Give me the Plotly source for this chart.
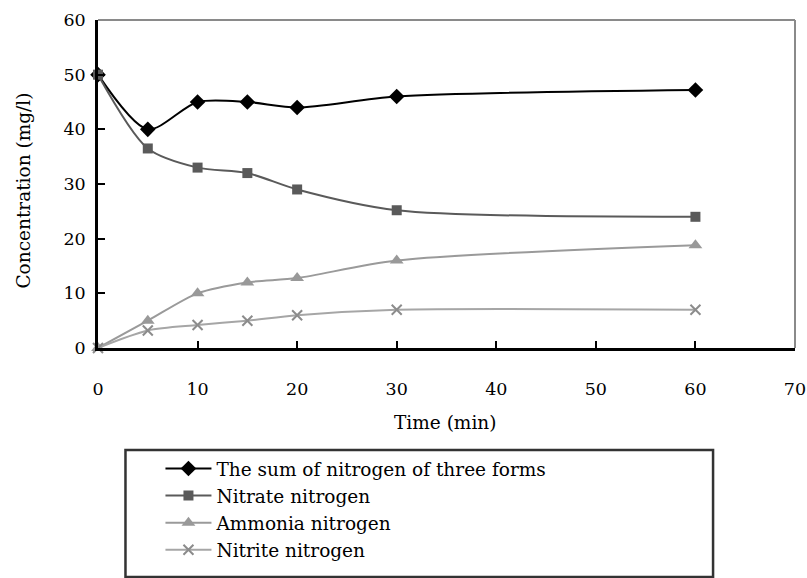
import plotly.graph_objects as go

time = [0, 5, 10, 15, 20, 30, 60]
sum_n = [50, 40, 45, 45, 44, 46, 47.2]
nitrate = [50, 36.5, 33, 32, 29, 25.2, 24]
ammonia = [0, 5, 10, 12, 12.8, 16, 18.8]
nitrite = [0, 3.2, 4.2, 5, 6, 7, 7]
names = ["The sum of nitrogen of three forms", "Nitrate nitrogen", "Ammonia nitrogen", "Nitrite nitrogen"]

FONT = "DejaVu Serif"
W, H = 807, 578
L, R, T, B = 97.5, 12, 20, 230
pw, ph = W - L - R, H - T - B

def px(x):
    return (x - L) / pw

def py(y):
    return (H - B - y) / ph

fig = go.Figure()
series = [
    (sum_n, "#000000", "#000000", "diamond", 12, 2),
    (nitrate, "#5a5a5a", "#5a5a5a", "square", 10, 2),
    (ammonia, "#9a9a9a", "#999999", "triangle-up", 12, 2),
    (nitrite, "#a6a6a6", "#8c8c8c", "x-thin", 10, 2),
]
for i, (vals, lc, mc, sym, ms, lw) in enumerate(series):
    fig.add_trace(go.Scatter(
        x=time, y=vals, name=names[i],
        mode="lines+markers",
        line=dict(color=lc, width=lw, shape="spline", smoothing=0.8),
        marker=dict(symbol=sym, size=ms, color=mc,
                    line=dict(color=mc, width=2 if sym == "x-thin" else 0)),
        cliponaxis=False,
    ))

fig.update_layout(
    width=W, height=H,
    margin=dict(l=L, r=R, t=T, b=B, autoexpand=False),
    paper_bgcolor="white", plot_bgcolor="white",
    font=dict(family=FONT, size=17.5, color="#000"),
    showlegend=True,
    legend=dict(x=px(160), y=py(450), xanchor="left", yanchor="top",
                font=dict(family=FONT, size=18.5, color="#000"),
                tracegroupgap=0, itemwidth=46, bgcolor="rgba(0,0,0,0)",
                borderwidth=0),
    xaxis=dict(range=[0, 70], tickvals=[0, 10, 20, 30, 40, 50, 60, 70],
               showgrid=False, zeroline=False, showline=True, linecolor="#000", linewidth=2.5,
               ticks="inside", ticklen=7, tickwidth=2, tickcolor="#000",
               ticklabelstandoff=23, tickfont=dict(family=FONT, size=17.5)),
    yaxis=dict(range=[0, 60], tickvals=[0, 10, 20, 30, 40, 50, 60],
               showgrid=False, zeroline=False, showline=True, linecolor="#000", linewidth=2.5,
               ticks="inside", ticklen=7, tickwidth=2, tickcolor="#000",
               ticklabelstandoff=6, tickfont=dict(family=FONT, size=17.5)),
    shapes=[
        dict(type="line", xref="paper", yref="paper", x0=0, x1=1, y0=1, y1=1,
             line=dict(color="#8a8a8a", width=2)),
        dict(type="line", xref="paper", yref="paper", x0=1, x1=1, y0=0, y1=1,
             line=dict(color="#8a8a8a", width=2)),
        dict(type="rect", xref="paper", yref="paper", x0=px(125), x1=px(713),
             y0=py(577), y1=py(450), line=dict(color="#333333", width=2.5)),
    ],
    annotations=[
        dict(text="Concentration (mg/l)", xref="paper", yref="paper", x=px(22), y=py(191),
             xanchor="center", yanchor="middle",
             showarrow=False, textangle=-90, font=dict(family=FONT, size=18.5)),
        dict(text="Time (min)", xref="paper", yref="paper", x=px(445), y=py(422),
             xanchor="center", yanchor="middle",
             showarrow=False, font=dict(family=FONT, size=18.5)),
    ],
)
fig.write_html("out.html")
